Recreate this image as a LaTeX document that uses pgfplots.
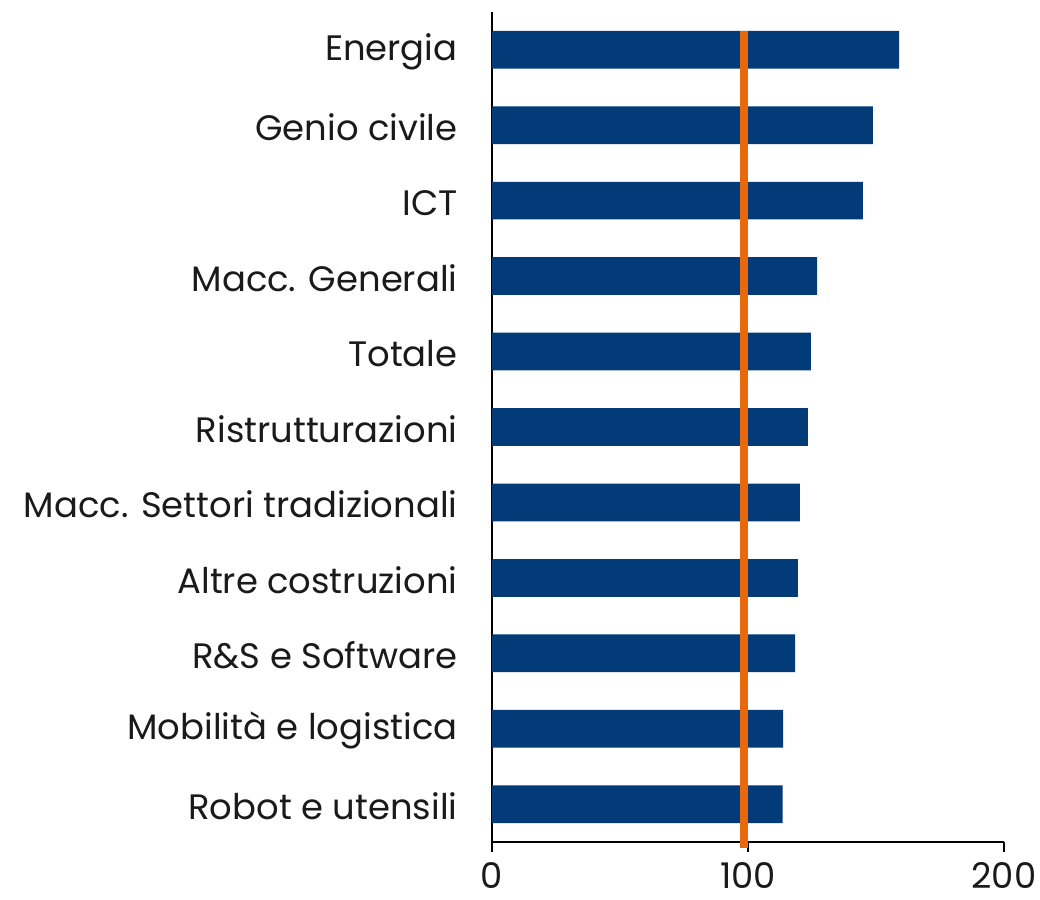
\documentclass[border=0pt]{standalone}
\usepackage{fontspec}
\setmainfont{Poppins}
\usepackage{pgfplots}
\pgfplotsset{compat=1.18}
\definecolor{barblue}{HTML}{023B78}
\definecolor{refline}{HTML}{E8680C}
\definecolor{txt}{HTML}{1A1A1A}

\begin{document}
\begin{tikzpicture}
\begin{axis}[
  at={(492bp,58bp)}, anchor=south west,
  scale only axis, width=512bp, height=830bp,
  xbar, bar width=0.5, bar shift=0pt,
  xmin=0, xmax=200, ymin=-0.5, ymax=10.5,
  axis lines=left, axis line style={-, line width=2.5bp, black},
  clip=false,
  xtick={0,100,200}, ytick={0,...,10},
  yticklabels={Robot e utensili, Mobilità e logistica, R\&S e Software,
    Altre costruzioni, Macc. Settori tradizionali, Ristrutturazioni,
    Totale, Macc. Generali, ICT, Genio civile, Energia},
  tick align=outside, major tick length=10bp,
  xtick style={line width=2bp, black},
  ytick style={draw=none},
  /pgf/number format/assume math mode=true,
  tick label style={font=\fontsize{35.5}{36}\selectfont, text=txt},
  yticklabel style={xshift=-21bp, yshift=-2bp},
  xticklabel style={yshift=-7bp},
]
\addplot[fill=barblue, draw=none] coordinates {
  (113.5,0) (113.7,1) (118.4,2) (119.5,3) (120.3,4) (123.4,5)
  (124.6,6) (127.0,7) (144.9,8) (148.8,9) (159.0,10)};
\addplot[refline, line width=7.5bp, xbar=0pt, draw, sharp plot, forget plot, fill=none]
  coordinates {(98.4,10.25) (98.4,-0.58)};
\end{axis}
\pgfresetboundingbox
\path (0,0) rectangle (1040bp,900bp);
\end{tikzpicture}
\end{document}
